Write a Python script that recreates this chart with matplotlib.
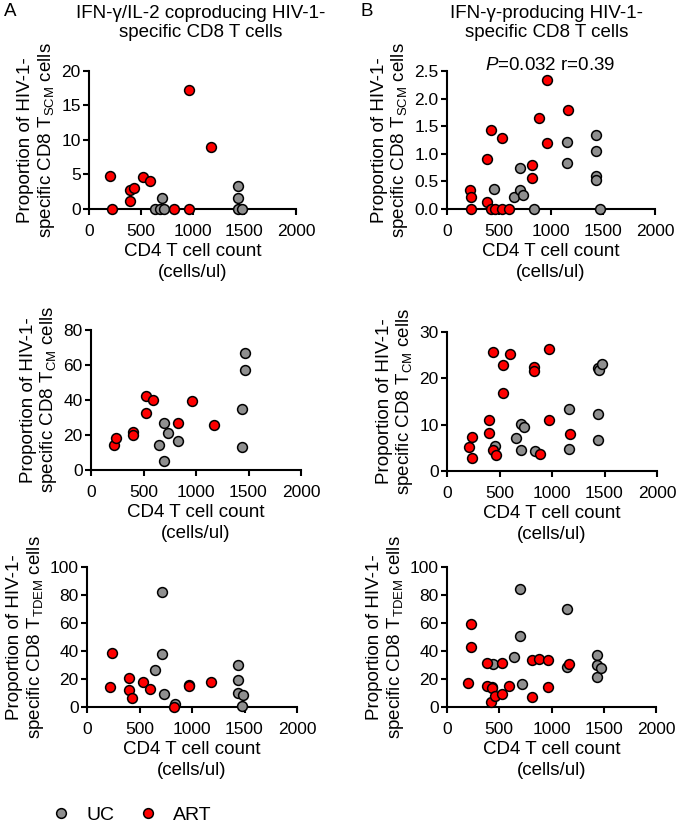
import matplotlib
matplotlib.use("Agg")
from matplotlib import pyplot as plt
from matplotlib.lines import Line2D

plt.rcParams['font.family'] = ['Liberation Sans', 'DejaVu Sans']
plt.rcParams['mathtext.fontset'] = 'custom'
plt.rcParams['mathtext.rm'] = 'Liberation Sans'
plt.rcParams['mathtext.it'] = 'Liberation Sans:italic'

RED = '#ff0000'
GRAY = '#8f8f8f'

# ---- column A: IFN-g/IL-2 coproducing ----
a_scm_uc_x = [639, 687, 703, 726, 1442, 1442, 1442, 1474]
a_scm_uc_y = [0, 0, 1.6, 0, 3.4, 1.6, 0, 0]
a_scm_art_x = [200, 226, 394, 394, 435, 526, 590, 823, 968, 968, 1177]
a_scm_art_y = [4.8, 0, 1.2, 2.8, 3.1, 4.7, 4.0, 0, 0, 17.2, 9.0]

a_cm_uc_x = [650, 694, 694, 732, 824, 1436, 1436, 1467, 1467]
a_cm_uc_y = [14.5, 26.7, 5.3, 21.3, 16.4, 13.3, 34.7, 57, 66.9]
a_cm_art_x = [216, 238, 396, 396, 520, 526, 593, 824, 960, 1170]
a_cm_art_y = [14.5, 18.5, 21.7, 19.8, 42.3, 32.8, 40, 26.7, 39.6, 25.5]

a_tdem_uc_x = [650, 710, 710, 732, 838, 971, 1439, 1439, 1439, 1484, 1478]
a_tdem_uc_y = [26.7, 82.4, 38.1, 9, 1.9, 16, 30.2, 19.5, 10, 8.6, 0.5]
a_tdem_art_x = [217, 239, 401, 398, 433, 535, 599, 828, 968, 1178]
a_tdem_art_y = [14.3, 38.3, 21, 11.9, 6.4, 17.6, 12.6, 0.2, 14.8, 18.1]

# ---- column B: IFN-g producing ----
b_scm_uc_x = [448, 640, 698, 704, 733, 832, 1158, 1158, 1437, 1437, 1437, 1437, 1472]
b_scm_uc_y = [0.37, 0.22, 0.74, 0.34, 0.25, 0, 1.21, 0.83, 1.34, 1.05, 0.59, 0.53, 0]
b_scm_art_x = [224, 234, 234, 384, 387, 426, 420, 464, 528, 598, 531, 822, 816, 886, 960, 966, 1168]
b_scm_art_y = [0.35, 0.21, 0, 0.12, 0.90, 1.43, 0, 0, 0, 0, 1.28, 0.79, 0.56, 1.64, 2.34, 1.20, 1.79]

b_cm_uc_x = [457, 654, 702, 737, 702, 835, 1159, 1159, 1435, 1435, 1435, 1444, 1479]
b_cm_uc_y = [5.4, 7.1, 10.2, 9.5, 4.6, 4.4, 13.3, 4.7, 12.4, 6.6, 22.2, 21.7, 23.2]
b_cm_art_x = [213, 238, 238, 400, 403, 438, 438, 470, 530, 537, 600, 825, 825, 889, 968, 968, 1175]
b_cm_art_y = [5.1, 7.3, 2.9, 8.3, 11.1, 25.6, 4.5, 3.4, 22.8, 16.9, 25.2, 22.5, 21.6, 3.7, 26.3, 11.1, 8.0]

b_tdem_uc_x = [443, 430, 640, 694, 694, 720, 1150, 1150, 1433, 1433, 1433, 1475]
b_tdem_uc_y = [31, 14, 35.7, 50.5, 84, 16.7, 70.2, 28.6, 37.4, 29.8, 21.4, 27.6]
b_tdem_art_x = [204, 229, 229, 385, 385, 430, 420, 460, 522, 525, 589, 818, 809, 882, 962, 962, 1169]
b_tdem_art_y = [17.1, 42.6, 59.3, 31.4, 14.8, 13.8, 3.5, 8, 9.5, 31.4, 15, 6.9, 33.6, 34, 33.3, 14.3, 31]

titles = ['IFN-\u03b3/IL-2 coproducing HIV-1-\nspecific CD8 T cells',
          'IFN-\u03b3-producing HIV-1-\nspecific CD8 T cells']

fig = plt.figure(figsize=(6.8, 8.27), dpi=100)
W, H = 680.0, 827.0

def make_ax(x0, x1, ytop, ybot):
    return fig.add_axes([x0 / W, 1 - ybot / H, (x1 - x0) / W, (ybot - ytop) / H])

panels = [
    (make_ax(89, 296, 71, 209), a_scm_uc_x, a_scm_uc_y, a_scm_art_x, a_scm_art_y, 20, [0, 5, 10, 15, 20], 'SCM', '%d'),
    (make_ax(447, 655, 71, 209), b_scm_uc_x, b_scm_uc_y, b_scm_art_x, b_scm_art_y, 2.5, [0, 0.5, 1.0, 1.5, 2.0, 2.5], 'SCM', '%.1f'),
    (make_ax(91, 301, 330, 470), a_cm_uc_x, a_cm_uc_y, a_cm_art_x, a_cm_art_y, 80, [0, 20, 40, 60, 80], 'CM', '%d'),
    (make_ax(447, 657, 332, 471), b_cm_uc_x, b_cm_uc_y, b_cm_art_x, b_cm_art_y, 30, [0, 10, 20, 30], 'CM', '%d'),
    (make_ax(87, 297, 567, 707), a_tdem_uc_x, a_tdem_uc_y, a_tdem_art_x, a_tdem_art_y, 100, [0, 20, 40, 60, 80, 100], 'TDEM', '%d'),
    (make_ax(447, 656, 567, 707), b_tdem_uc_x, b_tdem_uc_y, b_tdem_art_x, b_tdem_art_y, 100, [0, 20, 40, 60, 80, 100], 'TDEM', '%d'),
]

for ax, ux, uy, rx, ry, ymax, yt, sub, fmt in panels:
    ax.scatter(ux, uy, s=50, c=GRAY, edgecolors='black', linewidths=1.1, clip_on=False, zorder=3)
    ax.scatter(rx, ry, s=50, c=RED, edgecolors='black', linewidths=1.1, clip_on=False, zorder=4)
    ax.set_xlim(0, 2000)
    ax.set_ylim(0, ymax)
    ax.set_xticks([0, 500, 1000, 1500, 2000])
    ax.set_yticks(yt)
    ax.set_yticklabels([fmt % v for v in yt])
    for s in ['top', 'right']:
        ax.spines[s].set_visible(False)
    for s in ['left', 'bottom']:
        ax.spines[s].set_linewidth(1.5)
    ax.tick_params(direction='out', length=4, width=1.5, labelsize=12.5)
    ax.tick_params(axis='x', pad=7)
    ax.tick_params(axis='y', pad=2)
    ax.set_xlabel('CD4 T cell count\n(cells/ul)', fontsize=13.5, linespacing=1.3, labelpad=3)
    ax.set_ylabel('Proportion of HIV-1-\nspecific CD8 T$_{\\mathregular{%s}}$ cells' % sub,
                  fontsize=13.5, linespacing=1.1, labelpad=3)
    ax.patch.set_alpha(0)

fig.text(201 / W, 1 - 23 / H, titles[0], ha='center', va='center', fontsize=13.5, linespacing=1.15)
fig.text(547 / W, 1 - 23 / H, titles[1], ha='center', va='center', fontsize=13.5, linespacing=1.15)
fig.text(4 / W, 1 - 11 / H, 'A', ha='left', va='center', fontsize=13.5)
fig.text(361 / W, 1 - 11 / H, 'B', ha='left', va='center', fontsize=13.5)
fig.text(550 / W, 1 - 65 / H, '$\\it{P}$=0.032 r=0.39', ha='center', va='center', fontsize=13.5)

handles = [Line2D([], [], ls='', marker='o', ms=7, mfc=GRAY, mec='black', mew=1.1),
           Line2D([], [], ls='', marker='o', ms=7, mfc=RED, mec='black', mew=1.1)]
fig.legend(handles, ['UC', 'ART'], loc='center left', bbox_to_anchor=(38 / W, 1 - 815 / H),
           ncol=2, frameon=False, fontsize=14, handletextpad=0.8, columnspacing=1.2,
           handlelength=1.0, borderpad=0.2)

fig.savefig('out.png', dpi=100)
